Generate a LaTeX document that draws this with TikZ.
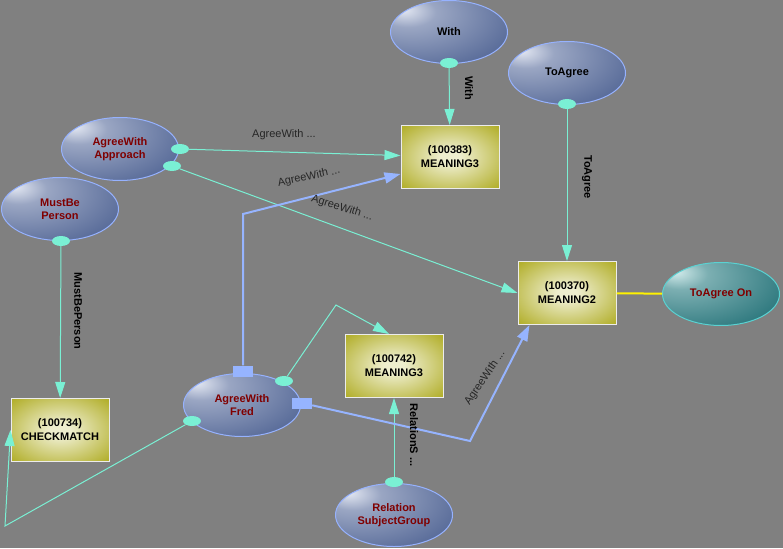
\documentclass[tikz,border=0pt]{standalone}
\usepackage{fontspec}
\setmainfont{Liberation Sans}
\usetikzlibrary{calc, positioning, arrows.meta, shapes.geometric}

\definecolor{bgGray}{RGB}{128,128,128}
\definecolor{linkCyan}{RGB}{122,240,212}
\definecolor{linkBlue}{RGB}{150,180,255}
\definecolor{ellLo}{RGB}{78,98,146}
\definecolor{ellHi}{RGB}{230,234,244}
\definecolor{ellRim}{RGB}{150,178,255}
\definecolor{tealLo}{RGB}{34,112,118}
\definecolor{tealHi}{RGB}{214,238,238}
\definecolor{tealRim}{RGB}{90,210,210}
\definecolor{boxLo}{RGB}{162,158,0}
\definecolor{boxHi}{RGB}{238,238,206}
\definecolor{nameRed}{RGB}{128,0,0}

\pgfdeclareradialshading{ellglow}{\pgfpoint{-20bp}{18bp}}{color(0bp)=(ellHi); color(12bp)=(ellHi!50!ellLo); color(46bp)=(ellLo); color(100bp)=(ellLo)}
\pgfdeclareradialshading{tealglow}{\pgfpoint{-20bp}{18bp}}{color(0bp)=(tealHi); color(12bp)=(tealHi!50!tealLo); color(46bp)=(tealLo); color(100bp)=(tealLo)}
\pgfdeclareradialshading{boxglow}{\pgfpoint{0bp}{0bp}}{color(0bp)=(boxHi); color(5bp)=(boxHi); color(42bp)=(boxLo); color(100bp)=(boxLo)}

\begin{document}
\begin{tikzpicture}[x=1pt, y=-1pt,
  concept/.style={ellipse, draw=ellRim, line width=1pt, shade, shading=ellglow,
    minimum width=117pt, minimum height=63pt, inner sep=0pt, align=center,
    font=\bfseries\fontsize{11}{13}\selectfont, text=nameRed},
  meaning/.style={rectangle, draw=white!85!gray, line width=1pt, shade, shading=boxglow,
    minimum width=98pt, minimum height=63pt, inner sep=0pt, align=center,
    font=\bfseries\fontsize{11}{14}\selectfont},
  port/.style={ellipse, fill=linkCyan, minimum width=18pt, minimum height=10pt, inner sep=0pt},
  plug/.style={rectangle, fill=linkBlue, minimum width=20pt, minimum height=11pt, inner sep=0pt},
  link/.style={draw=linkCyan, line width=1pt, -{Triangle[length=16pt,width=10pt]}},
  wire/.style={draw=linkBlue, line width=2pt, -{Triangle[length=16pt,width=11pt]}},
  tag/.style={font=\bfseries\fontsize{11}{13}\selectfont, inner sep=0pt},
  note/.style={font=\fontsize{11}{13}\selectfont, text=black!85, inner sep=0pt}]

% Background
\fill[bgGray] (0,0) rectangle (783,548);
\useasboundingbox (0,0) rectangle (783,548);

% Concepts
\node[concept, text=black] (with) at (449,32) {With};
\node[concept, text=black] (toagree) at (567,73) {ToAgree};
\node[concept] (approach) at (120,149) {AgreeWith\\Approach};
\node[concept] (mustbe) at (60,209) {MustBe\\Person};
\node[concept] (fred) at (242,405) {AgreeWith\\Fred};
\node[concept] (relation) at (394,515) {Relation\\SubjectGroup};
\node[concept, draw=tealRim, shading=tealglow] (agreeon) at (721,294) {ToAgree On};

% Meanings
\node[meaning] (m383) at (450,157) {(100383)\\MEANING3};
\node[meaning] (m370) at (567,293) {(100370)\\MEANING2};
\node[meaning] (m742) at (394,366) {(100742)\\MEANING3};
\node[meaning] (chk) at (60,430) {(100734)\\CHECKMATCH};

% Ports
\node[port] (pWith) at (449,63) {};
\node[port] (pTA) at (567,104) {};
\node[port] (pAA1) at (180,149) {};
\node[port] (pAA2) at (172,166) {};
\node[port] (pMB) at (61,241) {};
\node[port] (pF1) at (284,381) {};
\node[port] (pF2) at (192,421) {};
\node[port] (pRel) at (394,482) {};
\node[plug] (qUp) at (243,371) {};
\node[plug] (qRight) at (302,403) {};

% Bends
\coordinate (kUp) at (243,214);
\coordinate (kRight) at (470,441);
\coordinate (kTop) at (336,305);
\coordinate (kLow) at (5,526);

% Links
\foreach \a/\b in {pWith/m383, pTA/m370, pMB/chk, pRel/m742}
  \draw[link] (\a) -- (\b);
\draw[link] (pAA1) -- (m383);
\draw[link] (pAA2) -- (m370.west);
\draw[link] (pF1) -- (kTop) -- ($(m742.north)+(-5,0)$);
\draw[link] (pF2) -- (kLow) -- (chk.west);
\draw[wire] (qUp) -- (kUp) -- ($(m383.west)+(0,17)$);
\draw[wire] (qRight) -- (kRight) -- ($(m370.south west)+(12,0)$);
\draw[yellow, line width=2pt] (m370) -- (agreeon);

% Labels
\node[tag, rotate=-90] (tWith) at (469,88) {With};
\node[tag, rotate=-90] (tTA) at (587,177) {ToAgree};
\node[tag, rotate=-90] (tMB) at (78,311) {MustBePerson};
\node[tag, rotate=-90] (tRel) at (414,435) {RelationS ...};
\node[note] (nA) at (284,135) {AgreeWith ...};
\node[note, rotate=12] (nB) at (309,177) {AgreeWith ...};
\node[note, rotate=-17] (nC) at (342,208) {AgreeWith ...};
\node[note, rotate=56] (nD) at (485,378) {AgreeWith ...};
\end{tikzpicture}
\end{document}
